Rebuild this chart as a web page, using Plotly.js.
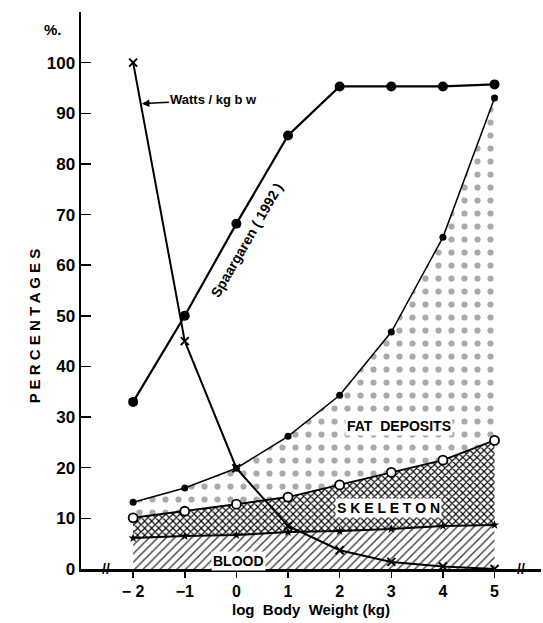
<!DOCTYPE html>
<html>
<head>
<meta charset="utf-8">
<script src="https://cdn.plot.ly/plotly-3.0.1.min.js"></script>
<style>html,body{margin:0;padding:0;background:#fff;}#chart{width:543px;height:623px;}</style>
</head>
<body>
<div id="chart"></div>
<script>
// log body weight (kg)
const logBW = [-2, -1, 0, 1, 2, 3, 4, 5];
const tickLabels = ["\u2212 2", "\u22121", "0", "1", "2", "3", "4", "5"];
const yTicks = [0, 10, 20, 30, 40, 50, 60, 70, 80, 90, 100];

// cumulative percentages
const bloodTop    = [6.1, 6.5, 6.7, 7.3, 7.5, 7.9, 8.5, 8.7];
const skeletonTop = [10.1, 11.4, 12.8, 14.2, 16.6, 19.1, 21.5, 25.4];
const fatTop      = [13.2, 16.0, 19.9, 26.2, 34.3, 46.8, 65.5, 93.0];
const wattsPerKg  = [100, 45, 19.9, 8.5, 3.7, 1.4, 0.5, 0];
const spaargaren  = [33, 50, 68.2, 85.6, 95.3, 95.3, 95.3, 95.7];

const FONT = "Liberation Sans, Arial, sans-serif";

const traces = [
  {
    x: logBW, y: bloodTop, type: "scatter", mode: "lines+markers",
    fill: "tozeroy", fillcolor: "rgba(0,0,0,0)",
    fillpattern: {shape: "/", fgcolor: "#333", bgcolor: "#fff", size: 6, solidity: 0.22},
    line: {color: "#000", width: 2},
    marker: {symbol: "star", size: 7, color: "#000"},
    hoverinfo: "skip", showlegend: false
  },
  {
    x: logBW, y: skeletonTop, type: "scatter", mode: "lines",
    fill: "tonexty", fillcolor: "rgba(0,0,0,0)",
    fillpattern: {shape: "x", fgcolor: "#000", bgcolor: "#fff", size: 5, solidity: 0.4},
    line: {color: "#000", width: 2},
    hoverinfo: "skip", showlegend: false
  },
  {
    x: logBW, y: fatTop, type: "scatter", mode: "lines+markers",
    fill: "tonexty", fillcolor: "rgba(0,0,0,0)",
    fillpattern: {shape: ".", fgcolor: "#aaa", bgcolor: "#fff", size: 13, solidity: 0.18},
    line: {color: "#000", width: 1.5},
    marker: {symbol: "circle", size: 7, color: "#000"},
    hoverinfo: "skip", showlegend: false
  },
  {
    x: logBW, y: skeletonTop, type: "scatter", mode: "markers",
    marker: {symbol: "circle", size: 9, color: "#fff", line: {color: "#000", width: 1.8}},
    hoverinfo: "skip", showlegend: false
  },
  {
    x: logBW, y: wattsPerKg, type: "scatter", mode: "lines+markers",
    line: {color: "#000", width: 2},
    marker: {symbol: "x-thin", size: 8, line: {color: "#000", width: 2}},
    hoverinfo: "skip", showlegend: false
  },
  {
    x: logBW, y: spaargaren, type: "scatter", mode: "lines+markers",
    line: {color: "#000", width: 2.2},
    marker: {symbol: "circle", size: 10, color: "#000"},
    hoverinfo: "skip", showlegend: false
  }
];

const layout = {
  width: 543, height: 623,
  margin: {l: 81, r: 2, t: 12, b: 54},
  paper_bgcolor: "#fff", plot_bgcolor: "#fff",
  font: {family: FONT, color: "#000", size: 14},
  showlegend: false,
  xaxis: {
    range: [-3.01, 5.9], tickvals: logBW, ticktext: tickLabels,
    ticks: "outside", ticklen: 6, tickwidth: 1.5, tickcolor: "#000",
    showline: true, linecolor: "#000", linewidth: 2.5,
    showgrid: false, zeroline: false,
    tickfont: {family: FONT, size: 16, color: "#000", weight: "bold"},
    title: {text: "log  Body  Weight (kg)", font: {family: FONT, size: 15, color: "#000", weight: "bold"}, standoff: 6}
  },
  xaxis2: {
    overlaying: "x", side: "top", anchor: "y",
    range: [-3.01, 5.9], tickvals: logBW,
    ticks: "inside", ticklen: 5, tickwidth: 1.5, tickcolor: "#000",
    showticklabels: false, showline: true, linecolor: "#000", linewidth: 2.5,
    showgrid: false, zeroline: false
  },
  yaxis: {
    range: [0, 110], tickvals: yTicks,
    ticks: "inside", ticklen: 10, tickwidth: 1.5, tickcolor: "#000",
    showline: true, linecolor: "#000", linewidth: 2.5,
    showgrid: false, zeroline: false,
    tickfont: {family: FONT, size: 17, color: "#000", weight: "bold"}
  },
  annotations: [
    {x: -1.83, y: 91.9, xref: "x", yref: "y", text: "Watts / kg b w", showarrow: true,
     ax: 72, ay: -4, arrowhead: 2, arrowsize: 1, arrowwidth: 1.5, arrowcolor: "#000",
     font: {family: FONT, size: 13, color: "#000", weight: "bold"}},
    {x: 0.2, y: 65, xref: "x", yref: "y", text: "Spaargaren ( 1992 )", showarrow: false,
     textangle: -60, font: {family: FONT, size: 14, color: "#000", weight: "bold"}},
    {x: 3.14, y: 28.2, xref: "x", yref: "y", text: "FAT  DEPOSITS", showarrow: false,
     bgcolor: "#fff", font: {family: FONT, size: 14, color: "#000", weight: "bold"}},
    {x: 2.94, y: 12, xref: "x", yref: "y", text: "S K E L E T O N", showarrow: false,
     bgcolor: "#fff", font: {family: FONT, size: 14, color: "#000", weight: "bold"}},
    {x: 0.04, y: 1.5, xref: "x", yref: "y", text: "BLOOD", showarrow: false,
     bgcolor: "#fff", font: {family: FONT, size: 14, color: "#000", weight: "bold"}},
    {x: -0.085, y: 106.5, xref: "paper", yref: "y", text: "%.", showarrow: false,
     font: {family: FONT, size: 15, color: "#000", weight: "bold"}},
    {x: -0.122, y: 48, xref: "paper", yref: "y", text: "P E R C E N T A G E S", showarrow: false,
     textangle: -90, font: {family: FONT, size: 15, color: "#000", weight: "bold"}},
    {x: 0.041, y: 0, xref: "paper", yref: "y", text: "//", showarrow: false,
     font: {family: FONT, size: 14, color: "#000", weight: "bold"}},
    {x: 0.97, y: 0, xref: "paper", yref: "y", text: "//", showarrow: false,
     font: {family: FONT, size: 14, color: "#000", weight: "bold"}}
  ]
};

Plotly.newPlot("chart", traces, layout, {displayModeBar: false, staticPlot: true});
</script>
</body>
</html>
